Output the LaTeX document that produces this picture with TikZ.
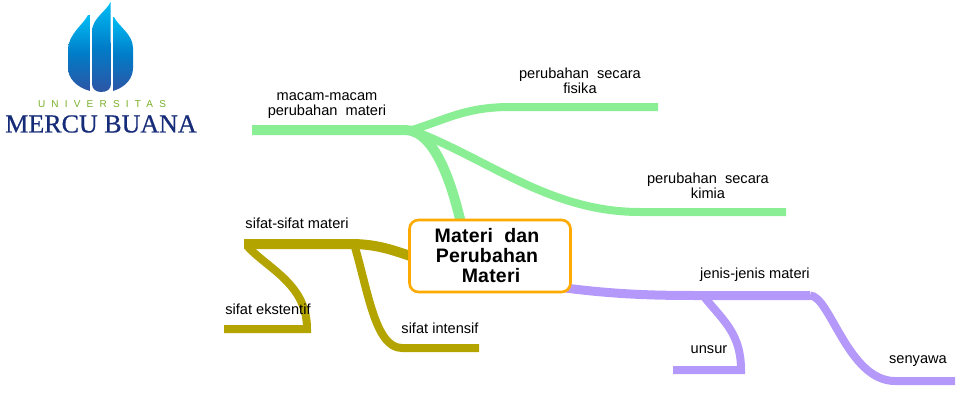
\documentclass[tikz,border=0pt]{standalone}
\usepackage{fontspec}
\setmainfont{Liberation Sans}
\newfontfamily\serifname[FakeBold=0.6]{Liberation Serif}
\usetikzlibrary{backgrounds}
\definecolor{greenline}{RGB}{138,238,148}
\definecolor{oliveline}{RGB}{180,164,0}
\definecolor{purpleline}{RGB}{181,153,250}
\definecolor{orangeline}{RGB}{255,170,0}
\definecolor{navyname}{RGB}{22,44,120}
\definecolor{greenname}{RGB}{120,175,40}
\definecolor{flametop}{RGB}{0,190,245}
\definecolor{flamemid}{RGB}{0,125,200}
\definecolor{flamelow}{RGB}{45,85,165}
\begin{document}
\begin{tikzpicture}[x=1pt,y=-1pt,
  every node/.style={inner sep=0pt,align=center,font=\fontsize{14.6}{15}\selectfont},
  topic/.style={draw=orangeline,line width=2.6pt,fill=white,rounded corners=9pt,minimum width=161pt,minimum height=72pt,font=\fontsize{19.5}{20}\selectfont\bfseries\addfontfeatures{LetterSpace=1}},
  flame/.style={top color=flametop,bottom color=flamelow,middle color=flamemid},
  greenbig/.style={draw=greenline,line width=10pt},
  greensmall/.style={draw=greenline,line width=8pt},
  olivebig/.style={draw=oliveline,line width=10pt},
  olivesmall/.style={draw=oliveline,line width=8pt},
  purplebig/.style={draw=purpleline,line width=9pt},
  purplesmall/.style={draw=purpleline,line width=8pt}]
\useasboundingbox (0,0) rectangle (980,410);
\shade [flame] (88,15) .. controls (84,24) and (68,34) .. (68,50) -- (68,68) .. controls (68,78) and (76,87) .. (90,91) -- (90,15) -- cycle;
\shade [flame] (110.5,2) .. controls (106,12) and (92,18) .. (92,32) -- (92,84) .. controls (92,89) and (96,92) .. (101,92) .. controls (107,92) and (111,89) .. (111,84) -- cycle;
\shade [flame] (114,17) .. controls (118,26) and (133,34) .. (133,48) -- (133,68) .. controls (133,78) and (126,87) .. (113,91) -- (113,17) -- cycle;
\node [text=greenname,font=\fontsize{10}{10}\selectfont\addfontfeatures{LetterSpace=62}] (univ) at (102,104) {UNIVERSITAS};
\node [text=navyname,font=\fontsize{26}{26}\serifname] (mercu) at (101,124) {MERCU BUANA};
\node [topic] (materi) at (490,256) {\raisebox{-1pt}{Materi~ dan}\hspace*{6pt}\mbox{}\\\raisebox{-1pt}{Perubahan}\hspace*{6pt}\mbox{}\\\hspace*{2pt}\raisebox{-1pt}{Materi}};
\node (macam) at (327,106) {macam-macam\\perubahan~ materi};
\node (fisika) at (580,81) {perubahan~ secara\\fisika};
\node (kimia) at (708,186) {perubahan~ secara\\kimia};
\node (sifat) at (297,223) {sifat-sifat materi};
\node (ekstentif) at (268,309) {sifat ekstentif};
\node (intensif) at (440,328) {sifat intensif};
\node (jenis) at (755,275) {jenis-jenis materi};
\node (unsur) at (709,350) {unsur};
\node (senyawa) at (918,361) {senyawa};
\coordinate (macamend) at (252,130);
\coordinate (macamjoin) at (412,130);
\coordinate (fisikaend) at (658,107);
\coordinate (kimiaend) at (786,212);
\coordinate (sifatend) at (244,244);
\coordinate (sifatjoin) at (354,244);
\coordinate (ekstentifend) at (224,329);
\coordinate (intensifend) at (479,348);
\coordinate (jenisjoin) at (810,295.5);
\coordinate (unsurend) at (673,370);
\coordinate (senyawaend) at (955,381);
\begin{scope}[on background layer]
\draw [greenbig] ([yshift=-4pt]materi.128) .. controls (452,185) and (435,130) .. (405,130) -- (macamend);
\draw [greensmall] (macamjoin) .. controls (445,120) and (465,107) .. (510,107) -- (fisikaend);
\draw [greensmall] (macamjoin) .. controls (490,160) and (550,212) .. (640,212) -- (kimiaend);
\draw [olivebig] ([xshift=5pt,yshift=-1pt]materi.west) .. controls (390,249) and (375,244) .. (350,244) -- (sifatend);
\draw [olivesmall] (sifatend) ++(4,3) .. controls (270,270) and (307,285) .. (307,329) -- (ekstentifend);
\draw [olivesmall] (sifatjoin) .. controls (368,290) and (375,348) .. (402,348) -- (intensifend);
\draw [purplebig] ([xshift=-6pt,yshift=1pt]materi.-22) .. controls (620,295) and (660,295.5) .. (700,295.5) -- (jenisjoin);
\draw [purplesmall] (705,298) .. controls (725,322) and (741,335) .. (741,370) -- (unsurend);
\draw [purplesmall] (jenisjoin) .. controls (830,295.5) and (848,381) .. (895,381) -- (senyawaend);
\end{scope}
\end{tikzpicture}
\end{document}
